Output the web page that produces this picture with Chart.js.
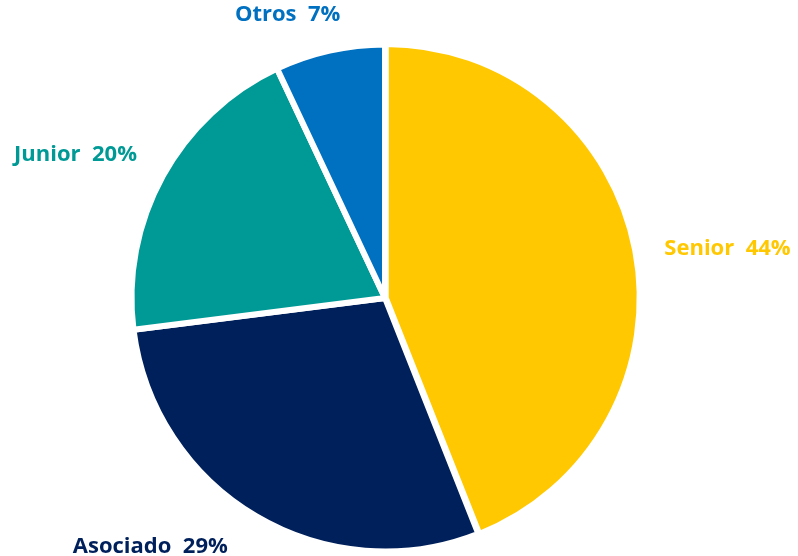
<!DOCTYPE html>
<html>
<head>
<meta charset="utf-8">
<script src="https://cdn.jsdelivr.net/npm/chart.js@4.4.1/dist/chart.umd.min.js"></script>
<style>
  html, body { margin: 0; padding: 0; background: #fff; }
  #wrap { width: 798px; height: 556px; position: relative; }
</style>
</head>
<body>
<div id="wrap"><canvas id="pie"></canvas></div>
<script>
// Distribución por categoría (%)
var categories = ['Senior', 'Asociado', 'Junior', 'Otros'];
var shares = [44, 29, 20, 7];
var sliceColors = ['#FFC800', '#00205B', '#009A96', '#0070C0'];

// label placement relative to each slice: angle nudge (deg) and distance (x radius)
var labelNudge = [2.6, 12.7, -4, -6.4];
var labelDist = [1.365, 1.35, 1.345, 1.18];

var outsideLabels = {
    id: 'outsideLabels',
    afterDatasetsDraw: function(chart) {
        var ctx = chart.ctx;
        var meta = chart.getDatasetMeta(0);
        ctx.save();
        ctx.font = 'bold 22px "Open Sans", "Noto Sans", sans-serif';
        ctx.textAlign = 'center';
        ctx.textBaseline = 'middle';
        meta.data.forEach(function(arc, i) {
            var p = arc.getProps(['x', 'y', 'startAngle', 'endAngle', 'outerRadius'], true);
            var mid = (p.startAngle + p.endAngle) / 2 + labelNudge[i] * Math.PI / 180;
            var d = p.outerRadius * labelDist[i];
            var lx = p.x + Math.cos(mid) * d;
            var ly = p.y + Math.sin(mid) * d;
            ctx.fillStyle = sliceColors[i];
            ctx.fillText(categories[i] + '  ' + shares[i] + '%', lx, ly);
        });
        ctx.restore();
    }
};

new Chart(document.getElementById('pie'), {
    type: 'pie',
    data: {
        labels: categories,
        datasets: [{
            data: shares,
            backgroundColor: sliceColors,
            borderColor: '#ffffff',
            borderWidth: 6,
            offset: [3, 0, 0, 0],
            hoverOffset: 0
        }]
    },
    options: {
        responsive: true,
        maintainAspectRatio: false,
        animation: false,
        layout: {
            padding: { top: 40, bottom: 0, left: 0, right: 28 }
        },
        plugins: {
            legend: { display: false },
            tooltip: { enabled: false }
        }
    },
    plugins: [outsideLabels]
});
</script>
</body>
</html>
